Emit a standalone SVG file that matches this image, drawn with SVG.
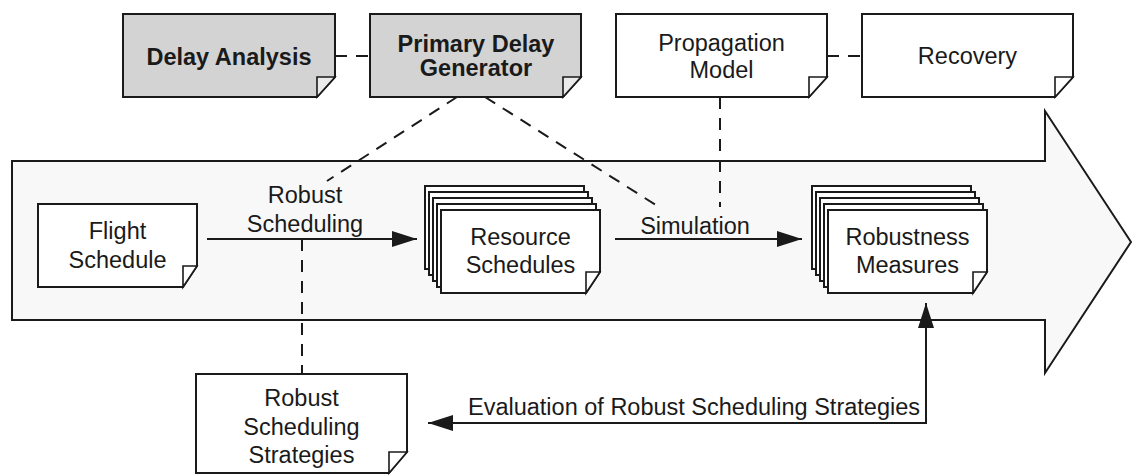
<svg xmlns="http://www.w3.org/2000/svg" width="1132" height="475" viewBox="0 0 1132 475">
<defs>
<style>
.box{fill:#ffffff;stroke:#1a1a1a;stroke-width:2;stroke-linejoin:miter}
.gray{fill:#d3d3d3}
.fold{fill:#ffffff;stroke:#1a1a1a;stroke-width:1.6}
.gfold{fill:#ebebeb}
.t{font-family:"Liberation Sans",Arial,sans-serif;font-size:23.5px;fill:#1a1a1a;text-anchor:middle}
.b{font-weight:bold}
.conn{fill:none;stroke:#1a1a1a;stroke-width:2}
.dash{fill:none;stroke:#1a1a1a;stroke-width:2;stroke-dasharray:12 9}
</style>
<marker id="ah" markerUnits="userSpaceOnUse" markerWidth="26" markerHeight="18" refX="25" refY="8" orient="auto-start-reverse" viewBox="0 0 26 16">
<path d="M0,0 L25,8 L0,16 Z" fill="#1a1a1a"/>
</marker>
</defs>

<g id="main-arrow">
<path d="M12,161 H1045 V111 L1131,242 L1045,373 V320 H12 Z" fill="#f8f8f8" stroke="#1a1a1a" stroke-width="2"/>
</g>

<g id="connectors">
<line class="dash" x1="335" y1="56" x2="370" y2="56"/>
<line class="dash" x1="827" y1="56" x2="862" y2="56"/>
<line class="dash" x1="457" y1="97" x2="327" y2="181"/>
<line class="dash" x1="485" y1="97" x2="659" y2="207"/>
<line class="dash" x1="720" y1="97" x2="720" y2="207"/>
<line class="dash" x1="302" y1="239" x2="302" y2="374"/>
<line class="conn" x1="207" y1="239" x2="417" y2="239" marker-end="url(#ah)"/>
<line class="conn" x1="615" y1="239" x2="802" y2="239" marker-end="url(#ah)"/>
<path class="conn" d="M428,423 H926 V303" marker-start="url(#ah)" marker-end="url(#ah)"/>
<text class="t" x="305" y="203">Robust</text>
<text class="t" x="305" y="232">Scheduling</text>
<text class="t" x="695" y="234">Simulation</text>
<text class="t" x="920" y="415" style="text-anchor:end">Evaluation of Robust Scheduling Strategies</text>
</g>

<g id="delay-analysis">
<path class="box gray" d="M123,14 H335 V77 L317,97 H123 Z"/>
<path class="fold gfold" d="M317,97 V77 H335 Z"/>
<text class="t b" x="229" y="65">Delay Analysis</text>
</g>

<g id="primary-delay-generator">
<path class="box gray" d="M370,14 H581 V77 L563,97 H370 Z"/>
<path class="fold gfold" d="M563,97 V77 H581 Z"/>
<text class="t b" x="476" y="52">Primary Delay</text>
<text class="t b" x="476" y="76">Generator</text>
</g>

<g id="propagation-model">
<path class="box" d="M616,14 H827 V77 L809,97 H616 Z"/>
<path class="fold" d="M809,97 V77 H827 Z"/>
<text class="t" x="721.5" y="51">Propagation</text>
<text class="t" x="721.5" y="78">Model</text>
</g>

<g id="recovery">
<path class="box" d="M862,14 H1073 V77 L1055,97 H862 Z"/>
<path class="fold" d="M1055,97 V77 H1073 Z"/>
<text class="t" x="967.5" y="64">Recovery</text>
</g>

<g id="flight-schedule">
<path class="box" d="M38,204 H197 V266 L183,287 H38 Z"/>
<path class="fold" d="M183,287 V266 H197 Z"/>
<text class="t" x="117.5" y="239">Flight</text>
<text class="t" x="117.5" y="268">Schedule</text>
</g>

<g id="resource-schedules">
<path class="box" d="M425,186 H584 V248 L570,269 H425 Z"/>
<path class="box" d="M429,192 H588 V254 L574,275 H429 Z"/>
<path class="box" d="M433,198 H592 V260 L578,281 H433 Z"/>
<path class="box" d="M437,204 H596 V266 L582,287 H437 Z"/>
<path class="box" d="M441,210 H600 V272 L586,293 H441 Z"/>
<path class="fold" d="M586,293 V272 H600 Z"/>
<text class="t" x="520.5" y="245">Resource</text>
<text class="t" x="520.5" y="273">Schedules</text>
</g>

<g id="robustness-measures">
<path class="box" d="M812,186 H971 V248 L957,269 H812 Z"/>
<path class="box" d="M816,192 H975 V254 L961,275 H816 Z"/>
<path class="box" d="M820,198 H979 V260 L965,281 H820 Z"/>
<path class="box" d="M824,204 H983 V266 L969,287 H824 Z"/>
<path class="box" d="M828,210 H987 V272 L973,293 H828 Z"/>
<path class="fold" d="M973,293 V272 H987 Z"/>
<text class="t" x="907.5" y="245">Robustness</text>
<text class="t" x="907.5" y="273">Measures</text>
</g>

<g id="robust-scheduling-strategies">
<path class="box" d="M196,374 H407 V452 L389,473 H196 Z"/>
<path class="fold" d="M389,473 V452 H407 Z"/>
<text class="t" x="301.5" y="406">Robust</text>
<text class="t" x="301.5" y="435">Scheduling</text>
<text class="t" x="301.5" y="463">Strategies</text>
</g>
</svg>
